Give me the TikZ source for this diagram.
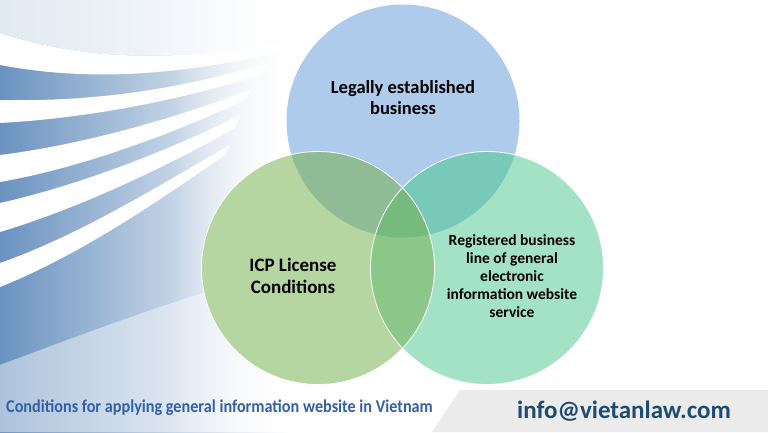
\documentclass[tikz,border=0pt]{standalone}
\usepackage{fontspec}
\setmainfont{Carlito}
\newfontfamily\condfont[FakeStretch=0.9]{Carlito}
\usepackage{tikz}
\usetikzlibrary{fadings}

\definecolor{bgblue}{HTML}{6A92C0}
\definecolor{topblue}{HTML}{AECBEB}
\definecolor{leftgreen}{HTML}{B5D5A1}
\definecolor{rightgreen}{HTML}{A4E2C6}
\definecolor{tlmix}{HTML}{8FBB95}
\definecolor{trmix}{HTML}{79C9BB}
\definecolor{lrmix}{HTML}{8CC78A}
\definecolor{allmix}{HTML}{76BA7E}
\definecolor{titleblue}{HTML}{3460A8}
\definecolor{mailblue}{HTML}{1E4B70}
\definecolor{boxgrey}{HTML}{EBEBEB}

\begin{document}
\begin{tikzpicture}[x=1pt, y=-1pt,
    circletext/.style={font=\bfseries, align=center, text=black}]
    \useasboundingbox (0,0) rectangle (768,432);
    \fill[white] (0,0) rectangle (768,432);

    % Background streaks
    \shade[left color=bgblue, middle color=bgblue!40, right color=white] (0,0) rectangle (290,432);
    \fill[white, opacity=0.8] (0,0) -- (0,33) .. controls (90,62) and (180,62) .. (300,40) -- (310,0) -- cycle;
    \fill[white] (0,33) .. controls (90,62) and (180,62) .. (300,40)
        -- (280,52) .. controls (180,75) and (90,82) .. (0,65) -- cycle;
    \fill[white] (0,100) .. controls (90,102) and (180,90) .. (270,62)
        -- (260,75) .. controls (180,100) and (90,118) .. (0,123) -- cycle;
    \fill[white] (0,155) .. controls (80,145) and (170,120) .. (250,90)
        -- (245,100) .. controls (170,135) and (80,168) .. (0,182) -- cycle;
    \fill[white] (0,203) .. controls (80,185) and (170,150) .. (240,115)
        -- (235,128) .. controls (170,165) and (80,208) .. (0,232) -- cycle;
    \fill[white] (0,263) .. controls (80,235) and (160,185) .. (230,145)
        -- (225,155) .. controls (160,200) and (80,255) .. (0,287) -- cycle;
    \fill[white, opacity=0.45] (0,365) .. controls (80,335) and (160,305) .. (230,285)
        -- (310,285) -- (310,432) -- (0,432) -- cycle;
    \fill[white, path fading=west] (170,0) rectangle (300,432);

    % Circles
    \coordinate (ctop) at (403,121);
    \coordinate (cleft) at (318,268);
    \coordinate (cright) at (487,268);
    \fill[topblue] (ctop) circle (116.5pt);
    \fill[leftgreen] (cleft) circle (116.5pt);
    \fill[rightgreen] (cright) circle (116.5pt);
    \begin{scope}
        \clip (ctop) circle (116.5pt);
        \fill[tlmix] (cleft) circle (116.5pt);
        \fill[trmix] (cright) circle (116.5pt);
    \end{scope}
    \begin{scope}
        \clip (cleft) circle (116.5pt);
        \fill[lrmix] (cright) circle (116.5pt);
        \clip (ctop) circle (116.5pt);
        \fill[allmix] (cright) circle (116.5pt);
    \end{scope}
    \draw[white, line width=0.8pt] (cleft) circle (116.5pt);
    \draw[white, line width=0.8pt] (cright) circle (116.5pt);

    % Circle labels
    \node[circletext, font=\bfseries\fontsize{18.5}{21}\selectfont] (legal) at (403,98)
        {Legally established\\business};
    \node[circletext, font=\bfseries\fontsize{19}{22}\selectfont] (icp) at (293,276)
        {ICP License\\Conditions};
    \node[circletext, font=\bfseries\fontsize{15.5}{18}\selectfont] (regline) at (512,276)
        {Registered business\\line of general\\electronic\\information website\\service};

    % Footer
    \fill[boxgrey] (460,390) -- (768,390) -- (768,432) -- (432,432) -- cycle;
    \node[anchor=west, inner sep=0pt, text=titleblue,
        font=\condfont\bfseries\fontsize{18}{20}\selectfont] (caption) at (6,408)
        {Conditions for applying general information website in Vietnam};
    \node[text=mailblue, font=\bfseries\fontsize{25}{28}\selectfont] (mail) at (624,411)
        {info@vietanlaw.com};
\end{tikzpicture}
\end{document}
